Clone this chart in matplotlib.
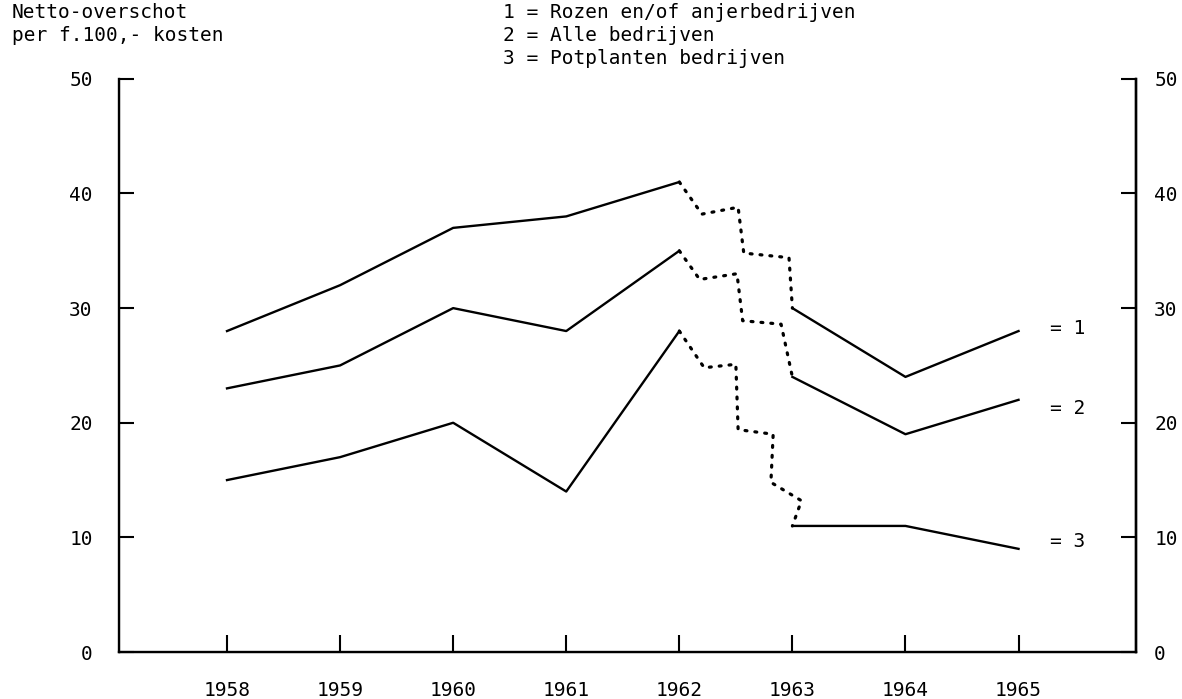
import matplotlib
matplotlib.use("Agg")
import matplotlib.pyplot as plt

# ============================================================
# DATA
# ============================================================

years = [1958, 1959, 1960, 1961, 1962, 1963, 1964, 1965]

rozen = [28, 32, 37, 38, 41, 30, 24, 28]     # 1 = Rozen en/of anjerbedrijven
alle = [23, 25, 30, 28, 35, 24, 19, 22]      # 2 = Alle bedrijven
pot = [15, 17, 20, 14, 28, 11, 11, 9]        # 3 = Potplanten bedrijven

# dotted staircase between 1962 and 1963
rozen_step_x = [1962, 1962.2, 1962.52, 1962.57, 1962.97, 1963]
rozen_step_y = [41, 38.2, 38.8, 34.8, 34.4, 30]
alle_step_x = [1962, 1962.18, 1962.51, 1962.56, 1962.9, 1963]
alle_step_y = [35, 32.5, 33.0, 28.9, 28.6, 24]
pot_step_x = [1962, 1962.22, 1962.5, 1962.52, 1962.83, 1962.81, 1963.08, 1963.0]
pot_step_y = [28, 24.8, 25.1, 19.4, 19.0, 14.8, 13.2, 11]

yticks = [0, 10, 20, 30, 40, 50]
legend_lines = ["1 = Rozen en/of anjerbedrijven",
                "2 = Alle bedrijven",
                "3 = Potplanten bedrijven"]
end_labels = ["= 1", "= 2", "= 3"]
end_label_y = [28.2, 21.2, 9.6]

# ============================================================
# FIGURE
# ============================================================

FONT = "DejaVu Sans Mono"
FS = 14

fig = plt.figure(figsize=(11.82, 6.99), dpi=100)
ax = fig.add_axes([0.1007, 0.0672, 0.8605, 0.820])

for series in (rozen, alle, pot):
    ax.plot(years[:5], series[:5], color="black", lw=1.7)
    ax.plot(years[5:], series[5:], color="black", lw=1.7)

for sx, sy in ((rozen_step_x, rozen_step_y), (alle_step_x, alle_step_y),
               (pot_step_x, pot_step_y)):
    ax.plot(sx, sy, color="black", lw=2.3, linestyle=(0, (0.6, 2.5)),
            dash_capstyle="round")

for lab, ly in zip(end_labels, end_label_y):
    ax.text(1965.28, ly, lab, fontsize=FS, family=FONT, ha="left", va="center")

ax.set_xlim(1957.045, 1966.04)
ax.set_ylim(0, 50)

ax.spines["top"].set_visible(False)
for s in ("left", "right", "bottom"):
    ax.spines[s].set_linewidth(1.7)

ax.set_xticks(years)
ax.set_xticklabels([str(y) for y in years], family=FONT, fontsize=FS)
ax.set_yticks(yticks)
ax.set_yticklabels([str(v) for v in yticks], family=FONT, fontsize=FS)
ax.tick_params(axis="y", direction="in", length=11, width=1.5, pad=19,
               left=True, right=False)
ax.tick_params(axis="x", direction="in", length=12, width=1.5, pad=21)

# right axis: same scale, labels a bit closer to the spine
axr = ax.twinx()
axr.set_ylim(ax.get_ylim())
axr.set_yticks(yticks)
axr.set_yticklabels([str(v) for v in yticks], family=FONT, fontsize=FS)
axr.tick_params(axis="y", direction="in", length=11, width=1.5, pad=13)
axr.spines["top"].set_visible(False)
axr.spines["right"].set_linewidth(1.7)

fig.text(0.010, 0.982, "Netto-overschot", family=FONT, fontsize=FS,
         ha="left", va="center")
fig.text(0.010, 0.949, "per f.100,- kosten", family=FONT, fontsize=FS,
         ha="left", va="center")

for i, line in enumerate(legend_lines):
    fig.text(0.4256, 0.982 - i * 0.033, line, family=FONT, fontsize=FS,
             ha="left", va="center")

fig.savefig("out.png", dpi=100)
